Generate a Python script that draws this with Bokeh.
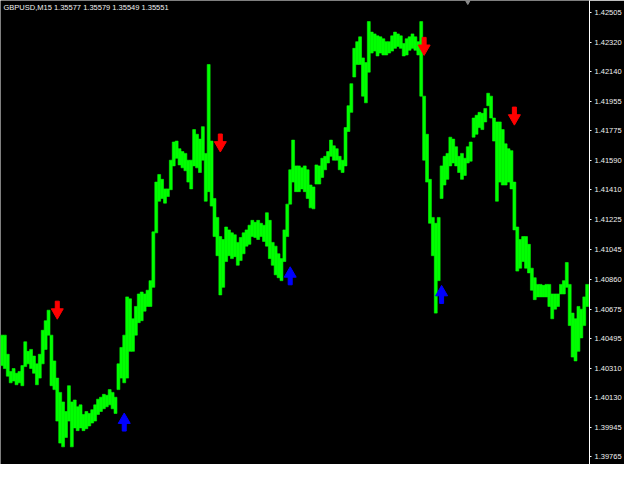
from bokeh.plotting import figure
from bokeh.models import Range1d, FixedTicker, PrintfTickFormatter, Label, ColumnDataSource
from bokeh.embed import file_html
from bokeh.resources import INLINE

# ---------------- data ----------------
symbol_info = "GBPUSD,M15  1.35577 1.35579 1.35549 1.35551"

highs = [
    1.40514, 1.40514, 1.40396, 1.40290, 1.40308, 1.40279, 1.40290, 1.40326, 1.40473, 1.40414,
    1.40426, 1.40385, 1.40337, 1.40396, 1.40544, 1.40603, 1.40668, 1.40514, 1.40355, 1.40249,
    1.40161, 1.40102, 1.40043, 1.40202, 1.40102, 1.40114, 1.40072, 1.40084, 1.40025, 1.40043,
    1.40031, 1.40054, 1.40084, 1.40119, 1.40131, 1.40149, 1.40143, 1.40178, 1.40161, 1.40131,
    1.40337, 1.40438, 1.40514, 1.40750, 1.40738, 1.40615, 1.40691, 1.40768, 1.40780, 1.40768,
    1.40791, 1.40850, 1.41151, 1.41458, 1.41505, 1.41475, 1.41416, 1.41416, 1.41593, 1.41705,
    1.41711, 1.41664, 1.41646, 1.41635, 1.41593, 1.41593, 1.41782, 1.41753, 1.41723, 1.41800,
    1.41635, 1.42183, 1.41711, 1.41357, 1.41240, 1.41122, 1.41104, 1.41181, 1.41163, 1.41145,
    1.41133, 1.41086, 1.41116, 1.41145, 1.41163, 1.41192, 1.41222, 1.41210, 1.41222, 1.41204,
    1.41192, 1.41269, 1.41222, 1.41086, 1.41063, 1.41016, 1.40986, 1.41163, 1.41322, 1.41534,
    1.41717, 1.41558, 1.41558, 1.41546, 1.41558, 1.41534, 1.41440, 1.41428, 1.41564, 1.41558,
    1.41605, 1.41617, 1.41646, 1.41717, 1.41682, 1.41664, 1.41617, 1.41593, 1.41794, 1.41929,
    1.42065, 1.42283, 1.42324, 1.42354, 1.42224, 1.42195, 1.42448, 1.42383, 1.42372, 1.42360,
    1.42354, 1.42342, 1.42324, 1.42324, 1.42360, 1.42383, 1.42372, 1.42360, 1.42313, 1.42342,
    1.42354, 1.42372, 1.42354, 1.42324, 1.42448, 1.41988, 1.41753, 1.41475, 1.41240, 1.41204,
    1.41240, 1.41558, 1.41617, 1.41635, 1.41735, 1.41723, 1.41676, 1.41617, 1.41635, 1.41605,
    1.41676, 1.41705, 1.41853, 1.41870, 1.41888, 1.41882, 1.41912, 1.42006, 1.41988, 1.41853,
    1.41829, 1.41829, 1.41782, 1.41694, 1.41664, 1.41652, 1.41458, 1.41181, 1.41104, 1.41122,
    1.41122, 1.41074, 1.40927, 1.40868, 1.40827, 1.40827, 1.40821, 1.40827, 1.40827, 1.40768,
    1.40768, 1.40768, 1.40827, 1.40850, 1.40962, 1.40827, 1.40650, 1.40615, 1.40691, 1.40674,
    1.40750, 1.40827,
]

lows = [
    1.40326, 1.40308, 1.40261, 1.40220, 1.40231, 1.40208, 1.40220, 1.40202, 1.40320, 1.40337,
    1.40308, 1.40279, 1.40208, 1.40249, 1.40337, 1.40426, 1.40514, 1.40202, 1.40178, 1.39984,
    1.39848, 1.39825, 1.39883, 1.39984, 1.39825, 1.39942, 1.39925, 1.39942, 1.39925, 1.39937,
    1.39954, 1.39972, 1.39984, 1.40025, 1.40043, 1.40060, 1.40072, 1.40084, 1.40060, 1.40031,
    1.40178, 1.40249, 1.40220, 1.40249, 1.40414, 1.40414, 1.40514, 1.40591, 1.40603, 1.40662,
    1.40691, 1.40691, 1.40809, 1.41145, 1.41340, 1.41357, 1.41328, 1.41369, 1.41411, 1.41558,
    1.41605, 1.41564, 1.41546, 1.41528, 1.41458, 1.41416, 1.41558, 1.41546, 1.41517, 1.41593,
    1.41340, 1.41399, 1.41310, 1.41122, 1.41004, 1.40762, 1.40809, 1.40968, 1.41004, 1.40986,
    1.40998, 1.40945, 1.40974, 1.41016, 1.41063, 1.41074, 1.41122, 1.41116, 1.41104, 1.41122,
    1.41092, 1.41063, 1.40986, 1.40945, 1.40886, 1.40868, 1.40850, 1.40968, 1.41122, 1.41322,
    1.41458, 1.41399, 1.41399, 1.41416, 1.41399, 1.41357, 1.41299, 1.41293, 1.41446, 1.41446,
    1.41487, 1.41534, 1.41576, 1.41617, 1.41593, 1.41593, 1.41534, 1.41517, 1.41558, 1.41770,
    1.41888, 1.42106, 1.42183, 1.42183, 1.41988, 1.41947, 1.42136, 1.42254, 1.42266, 1.42236,
    1.42254, 1.42242, 1.42242, 1.42254, 1.42266, 1.42283, 1.42295, 1.42283, 1.42236, 1.42242,
    1.42271, 1.42283, 1.42271, 1.42242, 1.41988, 1.41593, 1.41458, 1.41204, 1.41004, 1.40650,
    1.40850, 1.41357, 1.41440, 1.41475, 1.41558, 1.41576, 1.41558, 1.41517, 1.41475, 1.41499,
    1.41576, 1.41587, 1.41735, 1.41753, 1.41794, 1.41782, 1.41829, 1.41929, 1.41853, 1.41711,
    1.41340, 1.41458, 1.41440, 1.41440, 1.41458, 1.41416, 1.41163, 1.40909, 1.40927, 1.40968,
    1.40927, 1.40898, 1.40791, 1.40733, 1.40750, 1.40750, 1.40750, 1.40750, 1.40691, 1.40615,
    1.40674, 1.40691, 1.40768, 1.40768, 1.40809, 1.40573, 1.40379, 1.40355, 1.40414, 1.40497,
    1.40573, 1.40691,
]

sell_bar = [19, 75, 145, 176]
sell_price = [1.40668, 1.41699, 1.42295, 1.41865]
buy_bar = [42, 99, 151]
buy_price = [1.39978, 1.40880, 1.40765]

price_ticks = [1.39765, 1.39945, 1.40130, 1.40310, 1.40495, 1.40675, 1.40860, 1.41045,
               1.41225, 1.41410, 1.41590, 1.41775, 1.41955, 1.42140, 1.42320, 1.42505]

shift_marker_bar = [160]

# ---------------- figure ----------------
W, H = 624, 464
Y_TOP = 1.42578
PX = (Y_TOP - 1.39747) / (H - 5)          # price per screen pixel
Y_MIN, Y_MAX = Y_TOP - PX * H, Y_TOP
X_MIN, X_MAX = -0.5, 201.8

p = figure(width=W, height=H, output_backend="svg", toolbar_location=None,
           x_range=Range1d(X_MIN, X_MAX), y_range=Range1d(Y_MIN, Y_MAX),
           x_axis_location=None, y_axis_location="right",
           background_fill_color="black", border_fill_color="black",
           min_border_left=0, min_border_top=0, min_border_bottom=0,
           min_border_right=0)
p.grid.visible = False
p.outline_line_color = None

ax = p.yaxis[0]
ax.ticker = FixedTicker(ticks=price_ticks, minor_ticks=[])
ax.formatter = PrintfTickFormatter(format="%.5f")
ax.axis_line_color = "white"
ax.axis_line_width = 1
ax.major_tick_line_color = "white"
ax.major_tick_in = 0
ax.major_tick_out = 2
ax.minor_tick_line_color = None
ax.major_label_standoff = 3
ax.major_label_text_color = "#f0f0f0"
ax.major_label_text_font = "Liberation Sans"
ax.major_label_text_font_size = "7.5px"

# price bars
bars = ColumnDataSource(dict(x=list(range(len(highs))), top=highs, bottom=lows))
p.vbar(x="x", top="top", bottom="bottom", width=1.0, source=bars,
       fill_color="#00ff00", line_color="#00ff00", line_width=0.6)

# arrows: fixed-size pixel offsets converted to price
sell_shaft = [v + 4.5 * PX for v in sell_price]
sell_head = [v - 2.1 * PX for v in sell_price]
buy_shaft = [v - 4.5 * PX for v in buy_price]
buy_head = [v + 2.1 * PX for v in buy_price]

p.rect(x=sell_bar, y=sell_shaft, width=4, height=9, width_units="screen",
       height_units="screen", color="#ff0000")
p.scatter(x=sell_bar, y=sell_head, marker="inverted_triangle", size=12, color="#ff0000")
p.rect(x=buy_bar, y=buy_shaft, width=4, height=9, width_units="screen",
       height_units="screen", color="#0000ff")
p.scatter(x=buy_bar, y=buy_head, marker="triangle", size=12, color="#0000ff")

# chart-shift marker at top
p.scatter(x=shift_marker_bar, y=[Y_MAX] * len(shift_marker_bar), marker="inverted_triangle",
          size=7, color="#8a8a8a")

p.add_layout(Label(x=3, y=H - 2, x_units="screen", y_units="screen",
                   text=symbol_info, text_color="#f0f0f0", text_font="Liberation Sans",
                   text_font_size="7.5px", text_baseline="top"))

open("out.html", "w").write(file_html(p, INLINE))
